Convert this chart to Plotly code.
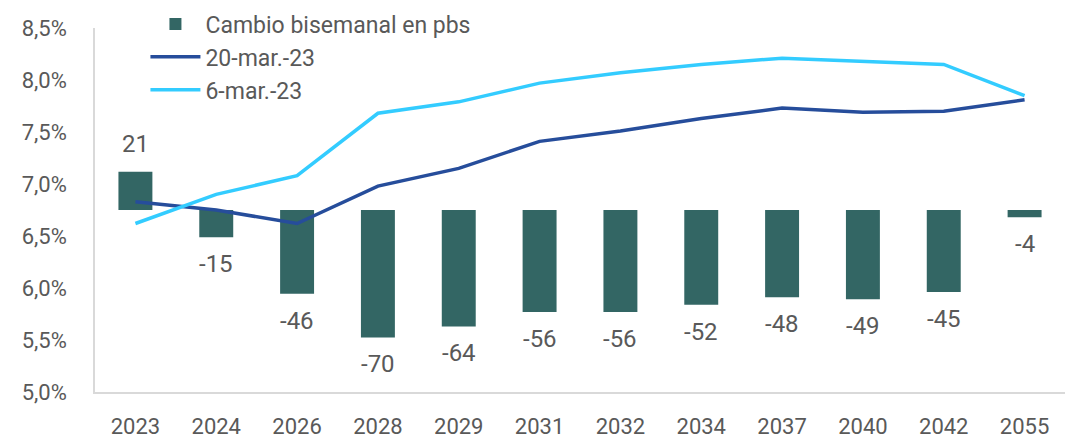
import plotly.graph_objects as go

# plazos de los bonos
years = ["2023", "2024", "2026", "2028", "2029", "2031", "2032", "2034",
         "2037", "2040", "2042", "2055"]

# cambio bisemanal en puntos basicos
change_pbs = [21, -15, -46, -70, -64, -56, -56, -52, -48, -49, -45, -4]

# curvas de rendimiento (%)
curve_20mar = [6.83, 6.75, 6.62, 6.98, 7.15, 7.41, 7.51, 7.63, 7.73, 7.69, 7.70, 7.81]
curve_6mar = [6.62, 6.90, 7.08, 7.68, 7.79, 7.97, 8.07, 8.15, 8.21, 8.18, 8.15, 7.85]

# etiquetas del eje de rendimiento
y_ticks = [5.0, 5.5, 6.0, 6.5, 7.0, 7.5, 8.0, 8.5]
y_ticklabels = ["5,0%", "5,5%", "6,0%", "6,5%", "7,0%", "7,5%", "8,0%", "8,5%"]

grey = "#595959"
font = "Roboto"

fig = go.Figure()

# barras en el eje oculto, las lineas van encima
fig.add_trace(go.Bar(
    x=years, y=change_pbs, name="Cambio bisemanal en pbs",
    marker=dict(color="#336664", line=dict(width=0)),
    width=0.42, yaxis="y",
))
fig.add_trace(go.Scatter(
    x=years, y=curve_20mar, name="20-mar.-23", mode="lines",
    line=dict(color="#264D9B", width=3.5), yaxis="y2",
))
fig.add_trace(go.Scatter(
    x=years, y=curve_6mar, name="6-mar.-23", mode="lines",
    line=dict(color="#33CCFF", width=3.5), yaxis="y2",
))

# etiquetas de las barras, un poco separadas del extremo
# (en eje de categorias la anotacion usa el indice de la categoria)
for i, v in enumerate(change_pbs):
    fig.add_annotation(
        x=i, y=v, xref="x", yref="y", text=str(v), showarrow=False,
        yshift=28 if v > 0 else -27, yanchor="middle",
        font=dict(size=24, color=grey, family=font),
    )

fig.update_layout(
    width=1065, height=430,
    margin=dict(l=87, r=8, t=20, b=46, autoexpand=False),
    plot_bgcolor="white", paper_bgcolor="white",
    font=dict(family=font, size=22, color=grey),
    showlegend=True,
    legend=dict(x=0.052, y=1.07, xanchor="left", yanchor="top",
                bgcolor="rgba(0,0,0,0)", font=dict(size=23, color=grey),
                traceorder="normal", itemwidth=50, tracegroupgap=0),
    xaxis=dict(type="category", showline=True, linecolor="#d9d9d9",
               linewidth=1.5, ticks="", showgrid=False,
               ticklabelstandoff=14, tickfont=dict(size=22, color=grey)),
    yaxis=dict(range=[-100, 100], visible=False, showgrid=False,
               zeroline=False),
    yaxis2=dict(range=[5.0, 8.5], overlaying="y", side="left",
                tickmode="array", tickvals=y_ticks, ticktext=y_ticklabels,
                showgrid=False, zeroline=False, showline=True,
                linecolor="#d9d9d9", linewidth=1.5, ticks="",
                ticklabelstandoff=22, tickfont=dict(size=22, color=grey)),
)

fig.write_html("out.html")
